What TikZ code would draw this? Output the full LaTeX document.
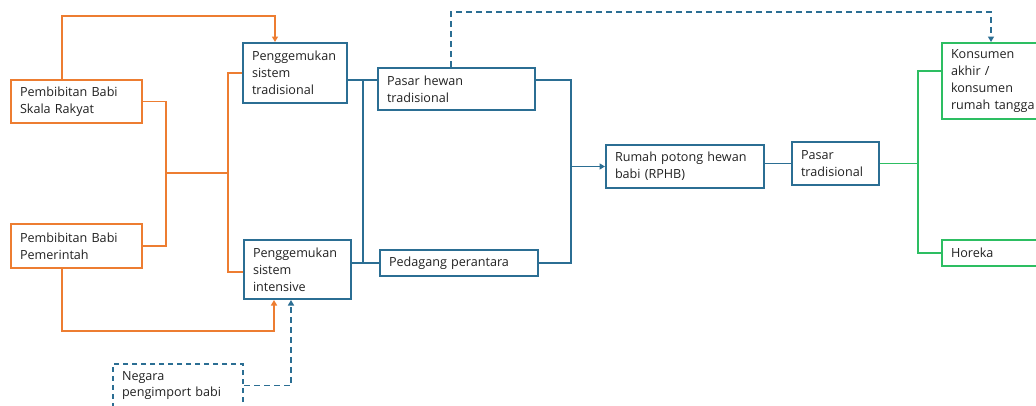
\documentclass[tikz,border=0pt]{standalone}
\usepackage{fontspec}
\setmainfont{Open Sans}
\usetikzlibrary{arrows.meta}
\definecolor{cOrange}{HTML}{ED7D31}
\definecolor{cBlue}{HTML}{2B6E93}
\definecolor{cGreen}{HTML}{2DBE62}
\definecolor{cText}{HTML}{222222}
\tikzset{
  box/.style={draw, line width=2pt, inner xsep=9pt, inner ysep=0pt,
    align=left, text=cText, font=\fontsize{12.6}{16.8}\selectfont},
  obox/.style={box, draw=cOrange},
  bbox/.style={box, draw=cBlue},
  gbox/.style={box, draw=cGreen},
  dbox/.style={box, draw=cBlue, dash pattern=on 5pt off 4pt},
  link/.style={line width=1.9pt},
  olink/.style={link, draw=cOrange},
  blink/.style={link, draw=cBlue},
  glink/.style={link, draw=cGreen},
  dlink/.style={link, draw=cBlue, dash pattern=on 6pt off 4pt},
  tip/.style={-{Triangle[length=5.5pt,width=6pt]}}
}
\begin{document}
\begin{tikzpicture}[x=1pt, y=-1pt]
  \useasboundingbox (0,0) rectangle (1036,405);
  \fill[white] (0,0) rectangle (1036,405);
  \clip (0,0) rectangle (1036,405);

  % boxes
  \node[obox, minimum width=131pt, minimum height=43pt, text width=113pt] (skala) at (76.5,101.5) {Pembibitan Babi\\Skala Rakyat};
  \node[obox, minimum width=131pt, minimum height=44pt, text width=113pt] (pem) at (76.5,246) {Pembibitan Babi\\Pemerintah};
  \node[bbox, minimum width=104pt, minimum height=60pt, text width=86pt] (trad) at (295,73) {Penggemukan\\sistem\\tradisional};
  \node[bbox, minimum width=107pt, minimum height=59pt, text width=89pt] (inten) at (297.5,269.5) {Penggemukan\\sistem\\intensive};
  \node[dbox, minimum width=130pt, minimum height=43pt, text width=112pt] (negara) at (178,385.5) {Negara\\pengimport babi};
  \node[bbox, minimum width=157pt, minimum height=42pt, text width=139pt] (phewan) at (456.5,89) {Pasar hewan\\tradisional};
  \node[bbox, minimum width=158pt, minimum height=26pt, text width=140pt] (pedagang) at (459,263) {Pedagang perantara};
  \node[bbox, minimum width=158pt, minimum height=43pt, text width=140pt] (rphb) at (685,166.5) {Rumah potong hewan\\babi (RPHB)};
  \node[bbox, minimum width=87pt, minimum height=43pt, text width=69pt] (pasar) at (835.5,163.5) {Pasar\\tradisional};
  \node[gbox, minimum width=103pt, minimum height=76pt, text width=85pt] (konsumen) at (993.5,81) {Konsumen\\akhir /\\konsumen\\rumah tangga};
  \node[gbox, minimum width=103pt, minimum height=26pt, text width=85pt] (horeka) at (993.5,253) {Horeka};

  % routing levels and attachment points
  \coordinate (otop) at (0,16);
  \coordinate (obot) at (0,331);
  \coordinate (dtop) at (0,12);
  \coordinate (oj1) at (166,173);
  \coordinate (oj2) at (228,173);
  \coordinate (bbus) at (363,0);
  \coordinate (rbus) at (571,0);
  \coordinate (gbus) at (918,0);
  \coordinate (phW) at ([yshift=9pt]phewan.west);
  \coordinate (phE) at ([yshift=9pt]phewan.east);
  \coordinate (inW) at ([yshift=-2.5pt]inten.west);
  \coordinate (rpE) at ([yshift=3pt]rphb.east);
  \coordinate (koW) at ([yshift=10pt]konsumen.west);
  \coordinate (skN) at ([xshift=52pt]skala.north west);
  \coordinate (peS) at ([xshift=52pt]pem.south west);
  \coordinate (trN) at ([xshift=33pt]trad.north west);
  \coordinate (inS1) at ([xshift=31pt]inten.south west);
  \coordinate (inS2) at ([xshift=48pt]inten.south west);
  \coordinate (phN) at ([xshift=74pt]phewan.north west);
  \coordinate (koN) at ([xshift=50pt]konsumen.north west);

  % breeding to fattening
  \draw[olink, tip] (skN) -- (skN |- otop) -| (trN);
  \draw[olink] (skala.east) -| (oj1) |- (pem.east);
  \draw[olink] (oj1) -- (oj2);
  \draw[olink] (trad.west) -| (oj2) |- (inW);
  \draw[olink, tip] (peS) -- (peS |- obot) -| (inS1);
  \draw[dlink, tip] (negara.east) -| (inS2);

  % fattening to markets
  \draw[blink] (phW) -- (phW -| trad.east);
  \draw[blink] (pedagang.west) -- (pedagang.west -| inten.east);
  \draw[blink] (bbus |- phW) -- (bbus |- pedagang.west);

  % markets to slaughterhouse
  \draw[blink] (phE) -| (rbus |- pedagang.east) -- (pedagang.east);
  \draw[blink, tip] (rbus |- rphb.west) -- (rphb.west);
  \draw[blink] (rpE) -- (rpE -| pasar.west);

  % direct sale to consumers
  \draw[dlink, tip] (phN) -- (phN |- dtop) -| (koN);

  % traditional market to end users
  \draw[glink] (pasar.east) -- (pasar.east -| gbus);
  \draw[glink] (koW) -| (gbus |- horeka.west) -- (horeka.west);
\end{tikzpicture}
\end{document}
